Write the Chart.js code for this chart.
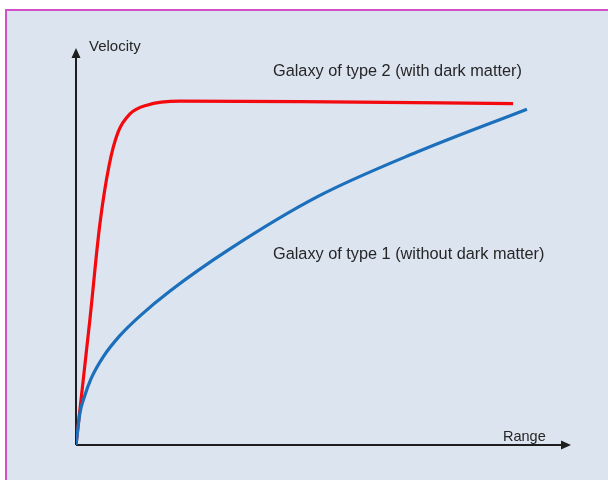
<!DOCTYPE html>
<html>
<head>
<meta charset="utf-8">
<script src="https://cdn.jsdelivr.net/npm/chart.js@4"></script>
<style>
  html, body { margin: 0; padding: 0; background: #ffffff; }
  canvas { display: block; }
</style>
</head>
<body>
<canvas id="chart" width="608" height="480"></canvas>
<script>
// curves (range, velocity in arbitrary units 0..100)
const type2Range = [0, 2.8, 4.8, 6.7, 8.5, 10.9, 14.3, 21.0, 45.3, 88.3];
const type2Velocity = [0, 31.5, 55.4, 70.5, 78.8, 83.4, 85.6, 86.6, 86.5, 86.0];

const type1Range = [0, 0.8, 1.6, 3.0, 5.5, 8.9, 13.0, 19.0, 31.1, 48.7, 68.9, 91.1];
const type1Velocity = [0, 8.1, 11.8, 16.6, 22.2, 27.6, 32.6, 38.8, 49.4, 62.5, 73.8, 84.6];

const axisLabels = ["Velocity", "Range"];
const curveLabels = ["Galaxy of type 2 (with dark matter)", "Galaxy of type 1 (without dark matter)"];

const toPoints = (xs, ys) => xs.map((x, i) => ({ x: x, y: ys[i] }));

const frame = {
    id: "frame",
    beforeDraw: (chart) => {
        const { ctx } = chart;
        ctx.save();
        ctx.fillStyle = "#ffffff";
        ctx.fillRect(0, 0, chart.width, chart.height);
        ctx.fillStyle = "#dce4f0";
        ctx.fillRect(6, 10, chart.width, chart.height);
        ctx.strokeStyle = "#d152c8";
        ctx.lineWidth = 2;
        ctx.strokeRect(6, 10, chart.width + 10, chart.height + 10);
        ctx.restore();
    },
    beforeDatasetsDraw: (chart) => {
        const { ctx, chartArea } = chart;
        const { left, right, top, bottom } = chartArea;
        ctx.save();
        ctx.strokeStyle = "#1e1e1e";
        ctx.fillStyle = "#1e1e1e";
        ctx.lineWidth = 2;
        ctx.beginPath();
        ctx.moveTo(left, bottom);
        ctx.lineTo(left, top + 8);
        ctx.moveTo(left, bottom);
        ctx.lineTo(right - 8, bottom);
        ctx.stroke();
        // arrow heads
        ctx.beginPath();
        ctx.moveTo(left, top);
        ctx.lineTo(left - 4.5, top + 10);
        ctx.lineTo(left + 4.5, top + 10);
        ctx.closePath();
        ctx.fill();
        ctx.beginPath();
        ctx.moveTo(right, bottom);
        ctx.lineTo(right - 10, bottom - 4.5);
        ctx.lineTo(right - 10, bottom + 4.5);
        ctx.closePath();
        ctx.fill();

        ctx.fillStyle = "#262626";
        ctx.font = "15px 'Liberation Sans', Arial, sans-serif";
        ctx.textBaseline = "middle";
        ctx.textAlign = "left";
        ctx.fillText(axisLabels[0], left + 13, top - 1);
        ctx.font = "14.5px 'Liberation Sans', Arial, sans-serif";
        ctx.fillText(axisLabels[1], right - 68, bottom - 8);

        ctx.font = "16.3px 'Liberation Sans', Arial, sans-serif";
        ctx.fillText(curveLabels[0], 273, 72);
        ctx.fillText(curveLabels[1], 273, 255);
        ctx.restore();
    },
};

new Chart(document.getElementById("chart"), {
    type: "scatter",
    data: {
        datasets: [
            {
                label: curveLabels[1],
                data: toPoints(type1Range, type1Velocity),
                showLine: true,
                borderColor: "#1b6fbb",
                borderWidth: 3.2,
                pointRadius: 0,
                cubicInterpolationMode: "monotone",
            },
            {
                label: curveLabels[0],
                data: toPoints(type2Range, type2Velocity),
                showLine: true,
                borderColor: "#f20a0f",
                borderWidth: 3.2,
                pointRadius: 0,
                cubicInterpolationMode: "monotone",
            },
        ],
    },
    options: {
        responsive: false,
        animation: false,
        layout: {
            padding: { left: 76, top: 48, right: 37, bottom: 35 },
        },
        plugins: {
            legend: false,
            tooltip: { enabled: false },
        },
        scales: {
            x: { type: "linear", min: 0, max: 100, display: false },
            y: { type: "linear", min: 0, max: 100, display: false },
        },
    },
    plugins: [frame],
});
</script>
</body>
</html>
